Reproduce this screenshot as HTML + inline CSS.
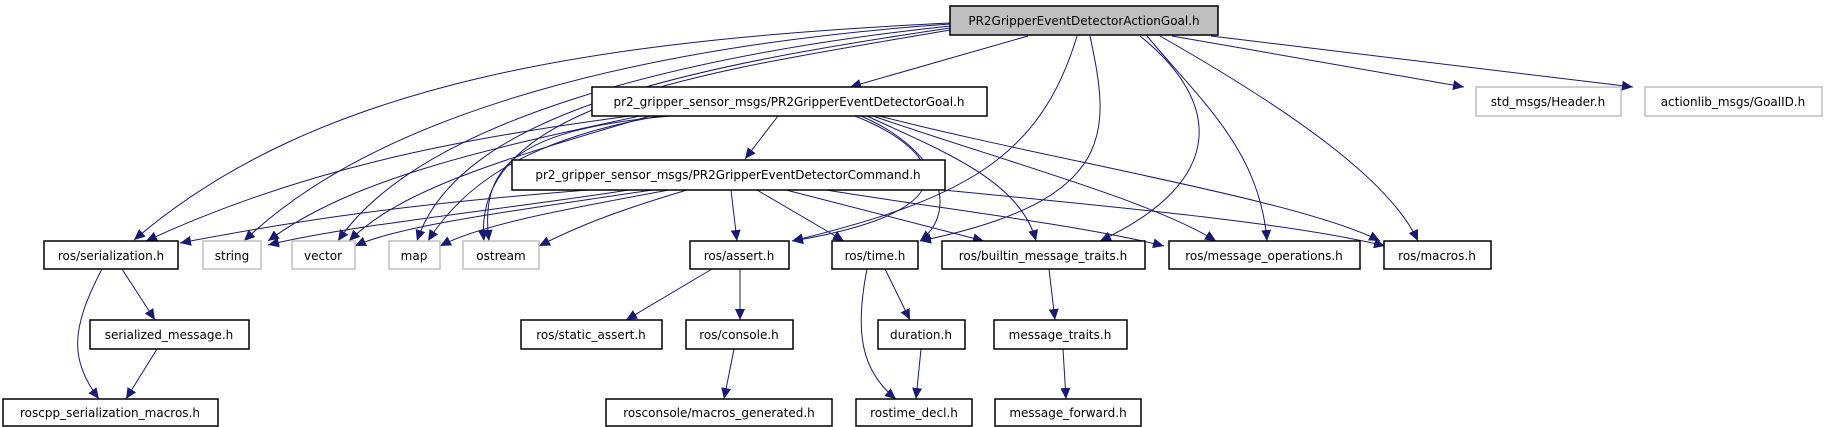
<!DOCTYPE html>
<html><head><meta charset="utf-8"><style>
html,body{margin:0;padding:0;background:#fff;}
svg{display:block;}
text{font-family:"DejaVu Sans","Liberation Sans",sans-serif;font-size:12px;fill:#000;}
</style></head><body>
<svg width="1825" height="427" viewBox="0 0 1825 427" xmlns="http://www.w3.org/2000/svg">
<defs>
<marker id="a" markerUnits="userSpaceOnUse" markerWidth="12" markerHeight="10" refX="11" refY="5" orient="auto">
<path d="M0,0 L11,5 L0,10 Z" fill="#191970"/>
</marker>
</defs>
<g fill="none" stroke="#191970" stroke-width="1" marker-end="url(#a)">
<!-- from ActionGoal -->
<path d="M950,23 C600,40 320,80 134,240"/>
<path d="M950,24 C650,45 380,110 244,241"/>
<path d="M950,26 C680,55 420,120 338,241"/>
<path d="M950,28 C700,65 460,110 417,241"/>
<path d="M950,30 C720,70 470,100 484,241"/>
<path d="M1028,36 L850,87"/>
<path d="M1077,36 C1040,160 960,200 792,241"/>
<path d="M1090,36 C1110,130 1120,200 920,241"/>
<path d="M1140,36 C1220,100 1230,180 1100,241"/>
<path d="M1147,36 C1200,100 1260,150 1267,241"/>
<path d="M1160,36 C1290,110 1390,180 1418,241"/>
<path d="M1172,36 L1464,87"/>
<path d="M1211,36 L1633,87"/>
<!-- from Goal -->
<path d="M778,116 L745,159"/>
<path d="M630,116 C450,140 300,170 146,241"/>
<path d="M640,116 C480,150 350,180 268,241"/>
<path d="M650,116 C500,160 400,190 349,241"/>
<path d="M660,116 C520,140 460,190 428,241"/>
<path d="M670,116 C510,130 480,170 489,241"/>
<path d="M855,116 C940,150 980,210 792,241"/>
<path d="M861,116 C940,150 960,210 920,241"/>
<path d="M867,116 C940,150 1020,180 1036,241"/>
<path d="M873,116 C1000,160 1150,200 1216,241"/>
<path d="M879,116 C1050,160 1300,200 1380,241"/>
<!-- from Command -->
<path d="M588,190 C400,205 300,220 180,243"/>
<path d="M629,190 C500,210 350,225 268,245"/>
<path d="M652,190 C520,210 400,225 355,246"/>
<path d="M669,190 C560,210 480,225 440,246"/>
<path d="M687,190 C620,210 580,225 539,246"/>
<path d="M731,190 L737,241"/>
<path d="M757,190 L844,241"/>
<path d="M786,190 L984,241"/>
<path d="M826,190 C950,210 1080,225 1164,246"/>
<path d="M943,190 C1150,210 1300,225 1385,246"/>
<!-- lower -->
<path d="M122,269 L155,320"/>
<path d="M102,269 C70,330 70,360 99,399"/>
<path d="M157,349 L126,399"/>
<path d="M712,269 L626,320"/>
<path d="M740,269 L740,320"/>
<path d="M885,269 L910,320"/>
<path d="M867,269 C855,330 860,370 896,399"/>
<path d="M921,349 L916,399"/>
<path d="M734,349 L724,399"/>
<path d="M1049,269 L1055,320"/>
<path d="M1063,349 L1066,399"/>
</g>
<g stroke-width="1.5">
<rect x="950" y="6" width="268" height="29" fill="#bfbfbf" stroke="#000"/>
<rect x="592" y="87" width="395" height="29" fill="#fff" stroke="#000"/>
<rect x="512" y="160" width="433" height="30" fill="#fff" stroke="#000"/>
<rect x="1476" y="87" width="145" height="29" fill="#fff" stroke="#bfbfbf"/>
<rect x="1645" y="87" width="177" height="29" fill="#fff" stroke="#bfbfbf"/>
<rect x="44" y="241" width="134" height="28" fill="#fff" stroke="#000"/>
<rect x="203" y="241" width="58" height="28" fill="#fff" stroke="#bfbfbf"/>
<rect x="292" y="241" width="63" height="28" fill="#fff" stroke="#bfbfbf"/>
<rect x="389" y="241" width="51" height="28" fill="#fff" stroke="#bfbfbf"/>
<rect x="463" y="241" width="76" height="28" fill="#fff" stroke="#bfbfbf"/>
<rect x="690" y="241" width="99" height="28" fill="#fff" stroke="#000"/>
<rect x="832" y="241" width="86" height="28" fill="#fff" stroke="#000"/>
<rect x="942" y="241" width="203" height="28" fill="#fff" stroke="#000"/>
<rect x="1169" y="241" width="191" height="28" fill="#fff" stroke="#000"/>
<rect x="1384" y="241" width="107" height="28" fill="#fff" stroke="#000"/>
<rect x="90" y="320" width="159" height="29" fill="#fff" stroke="#000"/>
<rect x="521" y="320" width="141" height="29" fill="#fff" stroke="#000"/>
<rect x="686" y="320" width="107" height="29" fill="#fff" stroke="#000"/>
<rect x="878" y="320" width="87" height="29" fill="#fff" stroke="#000"/>
<rect x="994" y="320" width="133" height="29" fill="#fff" stroke="#000"/>
<rect x="3" y="399" width="215" height="27" fill="#fff" stroke="#000"/>
<rect x="606" y="399" width="226" height="27" fill="#fff" stroke="#000"/>
<rect x="856" y="399" width="116" height="27" fill="#fff" stroke="#000"/>
<rect x="995" y="399" width="146" height="27" fill="#fff" stroke="#000"/>
</g>
<g text-anchor="middle">
<text x="1084" y="25">PR2GripperEventDetectorActionGoal.h</text>
<text x="789" y="106">pr2_gripper_sensor_msgs/PR2GripperEventDetectorGoal.h</text>
<text x="728" y="179">pr2_gripper_sensor_msgs/PR2GripperEventDetectorCommand.h</text>
<text x="1548" y="106">std_msgs/Header.h</text>
<text x="1733" y="106">actionlib_msgs/GoalID.h</text>
<text x="111" y="260">ros/serialization.h</text>
<text x="232" y="260">string</text>
<text x="323" y="260">vector</text>
<text x="414" y="260">map</text>
<text x="501" y="260">ostream</text>
<text x="739" y="260">ros/assert.h</text>
<text x="875" y="260">ros/time.h</text>
<text x="1043" y="260">ros/builtin_message_traits.h</text>
<text x="1264" y="260">ros/message_operations.h</text>
<text x="1437" y="260">ros/macros.h</text>
<text x="169" y="339">serialized_message.h</text>
<text x="591" y="339">ros/static_assert.h</text>
<text x="739" y="339">ros/console.h</text>
<text x="921" y="339">duration.h</text>
<text x="1060" y="339">message_traits.h</text>
<text x="110" y="417">roscpp_serialization_macros.h</text>
<text x="719" y="417">rosconsole/macros_generated.h</text>
<text x="914" y="417">rostime_decl.h</text>
<text x="1068" y="417">message_forward.h</text>
</g>
</svg>
</body></html>
